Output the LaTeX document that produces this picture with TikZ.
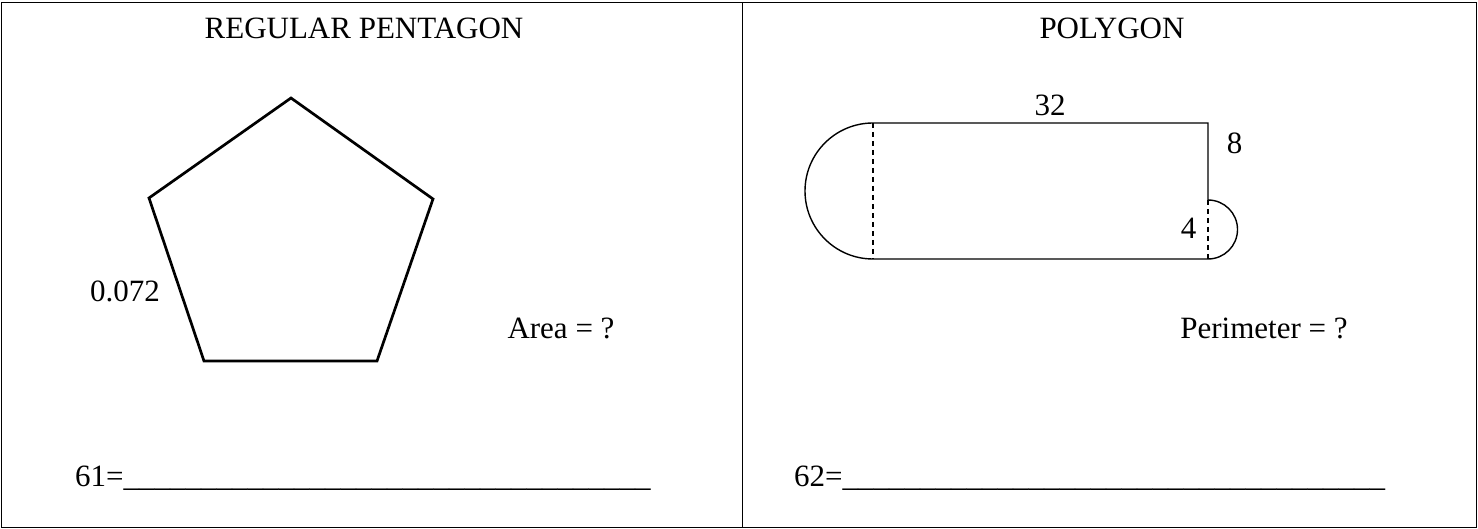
\documentclass[tikz,border=0pt]{standalone}
\usepackage{fontspec}
\setmainfont{Liberation Serif}
\usetikzlibrary{positioning}
\newcommand{\blanks}[1]{\foreach \i in {1,...,#1}{\_}}

\begin{document}
\begin{tikzpicture}[x=1pt, y=-1pt,
  lbl/.style={font=\fontsize{31}{37}\selectfont, inner sep=0pt, anchor=base},
  pent/.style={line width=2.7pt, line join=miter},
  outline/.style={line width=1.4pt},
  cut/.style={line width=1.1pt, dash pattern=on 5pt off 4pt}]
\useasboundingbox (0,0) rectangle (1478,529);
\draw[line width=1pt] (1,3) rectangle (1476,527);
\draw[line width=1pt] (742,3) -- (742,527);
% headings
\node[lbl] (head1) at (364,39) {REGULAR PENTAGON};
\node[lbl] (head2) at (1112,39) {POLYGON};
% pentagon
\coordinate (p1) at (291,98);
\coordinate (p2) at (433,199);
\coordinate (p3) at (377,361);
\coordinate (p4) at (204,361);
\coordinate (p5) at (149,198);
\draw[pent] (p1) -- (p2) -- (p3) -- (p4) -- (p5) -- cycle;
\node[lbl] (side) at (125,302) {0.072};
\node[lbl] (area) at (561,338) {Area = ?};
% polygon
\coordinate (a) at (873,123);
\coordinate (b) at (1208,123);
\coordinate (c) at (1208,259);
\coordinate (d) at (873,259);
\coordinate (e) at (1208,200);
\draw[outline] (a) arc[start angle=-90, end angle=-270, radius=68] -- (c)
  arc[start angle=90, end angle=-90, radius=29.5] -- (b) -- cycle;
\draw[cut] (a) -- (d);
\draw[cut] (e) -- (c);
\node[lbl] (len) at (1050,116) {32};
\node[lbl] (wid) at (1234.5,154) {8};
\node[lbl] (dia) at (1188.5,239) {4};
\node[lbl] (perim) at (1264,338) {Perimeter = ?};
% answer lines
\node[lbl, anchor=base west] (ans1) at (75,486) {61=\blanks{34}};
\node[lbl, anchor=base west] (ans2) at (794,486) {62=\blanks{35}};
\end{tikzpicture}
\end{document}
